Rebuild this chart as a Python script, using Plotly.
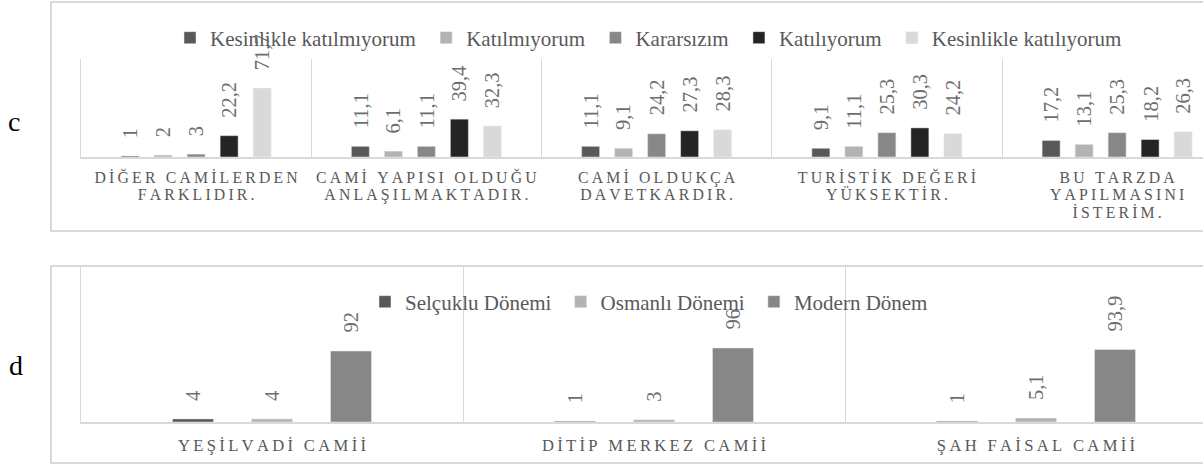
import plotly.graph_objects as go

W, H = 1203, 467          # browser window == figure size (body margin removed)


def px(x):
    return x / W


def py(y):
    return 1 - y / H


# ---------------- data: chart c ----------------
c_categories = [
    "DİĞER CAMİLERDEN FARKLIDIR.",
    "CAMİ YAPISI OLDUĞU ANLAŞILMAKTADIR.",
    "CAMİ OLDUKÇA DAVETKARDIR.",
    "TURİSTİK DEĞERİ YÜKSEKTİR.",
    "BU TARZDA YAPILMASINI İSTERİM.",
]
c_tick_lines = [
    ["DİĞER CAMİLERDEN", "FARKLIDIR."],
    ["CAMİ YAPISI OLDUĞU", "ANLAŞILMAKTADIR."],
    ["CAMİ OLDUKÇA", "DAVETKARDIR."],
    ["TURİSTİK DEĞERİ", "YÜKSEKTİR."],
    ["BU TARZDA", "YAPILMASINI", "İSTERİM."],
]
c_series = ["Kesinlikle katılmıyorum", "Katılmıyorum", "Kararsızım",
            "Katılıyorum", "Kesinlikle katılıyorum"]
c_kesinlikle_katilmiyorum = [1, 11.1, 11.1, 9.1, 17.2]
c_katilmiyorum = [2, 6.1, 9.1, 11.1, 13.1]
c_kararsizim = [3, 11.1, 24.2, 25.3, 25.3]
c_katiliyorum = [22.2, 39.4, 27.3, 30.3, 18.2]
c_kesinlikle_katiliyorum = [71.7, 32.3, 28.3, 24.2, 26.3]
c_values = [c_kesinlikle_katilmiyorum, c_katilmiyorum, c_kararsizim,
            c_katiliyorum, c_kesinlikle_katiliyorum]
c_colors = ["#595959", "#b3b3b3", "#878787", "#242424", "#d9d9d9"]

# ---------------- data: chart d ----------------
d_categories = ["YEŞİLVADİ CAMİİ", "DİTİP MERKEZ CAMİİ", "ŞAH FAİSAL CAMİİ"]
d_series = ["Selçuklu Dönemi", "Osmanlı Dönemi", "Modern Dönem"]
d_selcuklu = [4, 1, 1]
d_osmanli = [4, 3, 5.1]
d_modern = [92, 96, 93.9]
d_values = [d_selcuklu, d_osmanli, d_modern]
d_colors = ["#595959", "#b3b3b3", "#878787"]

SERIF = "Liberation Serif"
LABEL_COLOR = "#6e6e6e"
TEXT_COLOR = "#595959"
GRID = "#d9d9d9"
NB = "\u00a0"
THIN = "\u2009"


def fmt(v):
    return str(int(v)) if float(v).is_integer() else f"{v:.1f}".replace(".", ",")


def spaced(line, size):
    return f"<span style='font-size:{size}px'>" + THIN.join(line) + "</span>"


# geometry (pixels)
c_left, c_cat_w = 81, 230.25
d_left, d_cat_w = 81, 382.0
c_top, c_base = 59, 157
d_top, d_base = 267, 422
c_step_px, c_bar_px = 33, 18
d_step_px, d_bar_px = 79, 41
LABEL_GAP = 16

fig = go.Figure()
annotations = []

c_step, c_bw = c_step_px / c_cat_w, c_bar_px / c_cat_w
for i, (name, vals, col) in enumerate(zip(c_series, c_values, c_colors)):
    fig.add_trace(go.Bar(
        x=c_categories, y=vals, name=name + NB, marker_color=col,
        width=c_bw, offset=(i - 2) * c_step - c_bw / 2,
        xaxis="x", yaxis="y", legend="legend", hoverinfo="x+y",
    ))
    for cat, v in zip(c_categories, vals):
        annotations.append(dict(
            x=cat, y=v, xref="x", yref="y", text=fmt(v), textangle=-90,
            xanchor="center", yanchor="bottom", showarrow=False,
            xshift=(i - 2) * c_step_px, yshift=LABEL_GAP,
            font=dict(family=SERIF, size=20.5, color=LABEL_COLOR)))

d_step, d_bw = d_step_px / d_cat_w, d_bar_px / d_cat_w
for i, (name, vals, col) in enumerate(zip(d_series, d_values, d_colors)):
    fig.add_trace(go.Bar(
        x=d_categories, y=vals, name=name + THIN, marker_color=col,
        width=d_bw, offset=(i - 1) * d_step - d_bw / 2,
        xaxis="x2", yaxis="y2", legend="legend2", hoverinfo="x+y",
    ))
    for cat, v in zip(d_categories, vals):
        annotations.append(dict(
            x=cat, y=v, xref="x2", yref="y2", text=fmt(v), textangle=-90,
            xanchor="center", yanchor="bottom", showarrow=False,
            xshift=(i - 1) * d_step_px, yshift=LABEL_GAP,
            font=dict(family=SERIF, size=20.5, color=LABEL_COLOR)))

annotations += [
    dict(text="c", x=px(14), y=py(122), xref="paper", yref="paper",
         xanchor="center", yanchor="middle",
         showarrow=False, font=dict(family=SERIF, size=28, color="black")),
    dict(text="d", x=px(16), y=py(365), xref="paper", yref="paper",
         xanchor="center", yanchor="middle",
         showarrow=False, font=dict(family=SERIF, size=28, color="black")),
]

common_x = dict(type="category", tickson="boundaries", showgrid=True,
                gridcolor=GRID, gridwidth=1, showline=True, linecolor=GRID,
                linewidth=2, ticks="", zeroline=False, tickangle=0)
common_y = dict(showline=True, linecolor=GRID, linewidth=1,
                showticklabels=False, showgrid=False, zeroline=False, ticks="")

fig.update_layout(
    width=W, height=H, margin=dict(l=0, r=0, t=0, b=0),
    paper_bgcolor="white", plot_bgcolor="white",
    barmode="group", showlegend=True,
    xaxis=dict(common_x, domain=[px(c_left), 1],
               range=[-0.5, -0.5 + (W - c_left) / c_cat_w],
               tickvals=c_categories,
               ticktext=["<br>".join(spaced(l, 15.8) for l in lines) for lines in c_tick_lines],
               tickfont=dict(family=SERIF, size=13.3, color=TEXT_COLOR),
               ticklabelstandoff=8, anchor="y"),
    yaxis=dict(common_y, domain=[py(c_base), py(c_top)], range=[0, 102], anchor="x"),
    xaxis2=dict(common_x, domain=[px(d_left), 1],
                range=[-0.5, -0.5 + (W - d_left) / d_cat_w],
                tickvals=d_categories,
                ticktext=[spaced(c, 16.6) for c in d_categories],
                tickfont=dict(family=SERIF, size=15, color=TEXT_COLOR),
                ticklabelstandoff=9, anchor="y2"),
    yaxis2=dict(common_y, domain=[py(d_base), py(d_top)], range=[0, 201], anchor="x2"),
    legend=dict(orientation="h", x=px(170), y=py(38), xanchor="left", yanchor="middle",
                font=dict(family=SERIF, size=21, color=TEXT_COLOR),
                bgcolor="rgba(0,0,0,0)", traceorder="normal"),
    legend2=dict(orientation="h", x=px(365), y=py(302), xanchor="left", yanchor="middle",
                 font=dict(family=SERIF, size=21, color=TEXT_COLOR),
                 bgcolor="rgba(0,0,0,0)", traceorder="normal"),
    shapes=[
        dict(type="rect", xref="paper", yref="paper", x0=px(51), x1=1.05,
             y0=py(231), y1=py(2), line=dict(color=GRID, width=2), layer="below"),
        dict(type="rect", xref="paper", yref="paper", x0=px(51), x1=1.05,
             y0=py(463), y1=py(266), line=dict(color=GRID, width=2), layer="below"),
    ],
    annotations=annotations,
)

fig.write_html("out.html",
               config={"displayModeBar": False},
               post_script="document.body.style.margin='0px';"
                           "document.body.style.overflow='hidden';")
